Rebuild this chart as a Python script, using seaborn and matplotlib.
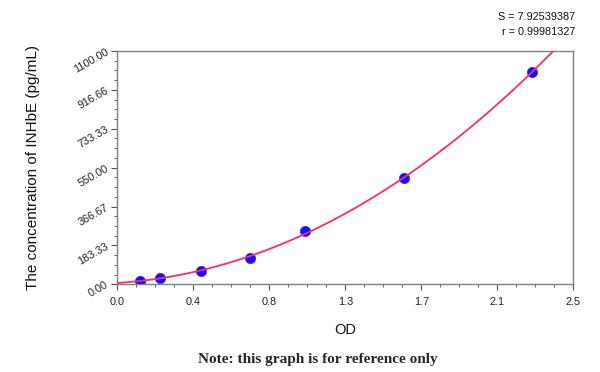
import numpy as np
import pandas as pd
import matplotlib
matplotlib.use("Agg")
import matplotlib.pyplot as plt
from matplotlib.ticker import MultipleLocator, FixedLocator
import seaborn as sns

# Data
od = [0.124, 0.234, 0.457, 0.728, 1.029, 1.574, 2.272]
conc = [15.6, 31.25, 62.5, 125, 250, 500, 1000]
x_ticks = [0.0, 2.5/6, 5/6, 1.25, 10/6, 12.5/6, 2.5]
x_tick_labels = ["0.0", "0.4", "0.8", "1.3", "1.7", "2.1", "2.5"]
y_ticks = [0, 1100/6, 2200/6, 550, 4400/6, 5500/6, 1100]
y_tick_labels = ["0.00", "183.33", "366.67", "550.00", "733.33", "916.66", "1100.00"]
s_text = "S = 7.92539387"
r_text = "r = 0.99981327"

sns.set_style("ticks")
plt.rcParams['font.family'] = ['Liberation Sans', 'DejaVu Sans']

fig = plt.figure(figsize=(6.0, 3.72), dpi=100)
ax = fig.add_axes([117.3/600, 1-284.3/372, (573.3-117.3)/600, (284.3-51)/372])

df = pd.DataFrame({"OD": od, "conc": conc})
# fitted curve
coef = np.polyfit(np.array(od), np.array(conc), 3)
xs = np.linspace(0.0, 2.5, 300)
fit = pd.DataFrame({"OD": xs, "conc": np.polyval(coef, xs)})

sns.scatterplot(data=df, x="OD", y="conc", ax=ax, color="#1010ff", s=55,
                edgecolor="#4020ff", linewidth=0.5, zorder=2)
sns.lineplot(data=fit, x="OD", y="conc", ax=ax, color="#ff2a6a", lw=1.3, zorder=3)

ax.set_xlim(0, 2.5)
ax.set_ylim(0, 1100)
ax.xaxis.set_major_locator(FixedLocator(x_ticks))
ax.set_xticklabels(x_tick_labels)
ax.xaxis.set_minor_locator(MultipleLocator(2.5/24))
ax.yaxis.set_major_locator(FixedLocator(y_ticks))
ax.set_yticklabels(y_tick_labels, rotation=30, ha="right", va="center",
                   rotation_mode="anchor")
ax.yaxis.set_minor_locator(MultipleLocator(1100/24))

for sp in ax.spines.values():
    sp.set_visible(True)
    sp.set_color("#808080")
    sp.set_linewidth(1.0)

ax.tick_params(which="major", direction="out", length=4, width=0.8, color="#505050",
               labelsize=7.8, labelcolor="#222222", pad=3)
ax.tick_params(which="minor", direction="out", length=2.5, width=0.6, color="#505050")
ax.tick_params(axis="x", pad=5)

ax.set_xlabel("OD", fontsize=10.5, color="#111111", va="center")
ax.xaxis.set_label_coords((345.5-117.3)/456, (284.3-330)/233.3)
ax.set_ylabel("The concentration of INHbE (pg/mL)", fontsize=11, color="#111111",
              va="center")
ax.yaxis.set_label_coords((33-117.3)/456, (284.3-167)/233.3)

fig.text(575/600, 1-17/372, s_text, ha="right", va="center", fontsize=7.8, color="#111111")
fig.text(575/600, 1-32/372, r_text, ha="right", va="center", fontsize=7.8, color="#111111")
fig.text(317.5/600, 1-360/372, "Note: this graph is for reference only", ha="center",
         va="center", fontsize=11, fontweight="bold", family=["Liberation Serif"])

fig.savefig("out.png", dpi=100, facecolor="white")
